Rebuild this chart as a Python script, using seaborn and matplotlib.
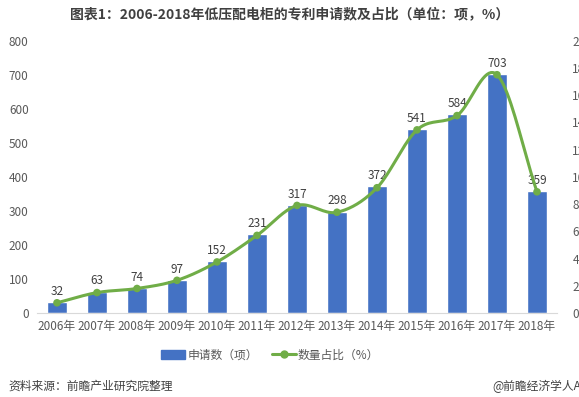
import numpy as np
import pandas as pd
import matplotlib
matplotlib.use('Agg')
import matplotlib.pyplot as plt
import seaborn as sns
from matplotlib.lines import Line2D
from matplotlib.patches import Patch

# 数据
years = ['2006年', '2007年', '2008年', '2009年', '2010年', '2011年', '2012年',
         '2013年', '2014年', '2015年', '2016年', '2017年', '2018年']
counts = [32, 63, 74, 97, 152, 231, 317, 298, 372, 541, 584, 703, 359]
shares = [0.75, 1.5, 1.8, 2.4, 3.75, 5.7, 7.9, 7.4, 9.2, 13.45, 14.5, 17.5, 8.9]

BAR_COLOR = '#4472C4'
LINE_COLOR = '#70AD47'
TEXT_COLOR = '#595959'

sns.set_style('white')
plt.rcParams['font.family'] = ['Noto Sans CJK SC', 'DejaVu Sans']


def smooth_curve(x, y, n=20):
    # Catmull-Rom 样条, 近似 Excel 平滑线
    x = np.asarray(x, float)
    y = np.asarray(y, float)
    px = np.concatenate([[2 * x[0] - x[1]], x, [2 * x[-1] - x[-2]]])
    py = np.concatenate([[2 * y[0] - y[1]], y, [2 * y[-1] - y[-2]]])
    xs, ys = [], []
    t = np.linspace(0, 1, n, endpoint=False)
    for i in range(1, len(px) - 2):
        for arr, out in ((px, xs), (py, ys)):
            p0, p1, p2, p3 = arr[i - 1], arr[i], arr[i + 1], arr[i + 2]
            out.extend(0.5 * ((2 * p1) + (-p0 + p2) * t
                              + (2 * p0 - 5 * p1 + 4 * p2 - p3) * t ** 2
                              + (-p0 + 3 * p1 - 3 * p2 + p3) * t ** 3))
    xs.append(x[-1])
    ys.append(y[-1])
    return np.array(xs), np.array(ys)


df = pd.DataFrame({'year': years, 'count': counts, 'share': shares})

fig = plt.figure(figsize=(5.79, 3.97), dpi=100)
ax = fig.add_axes([37 / 579, 1 - 313 / 397, 520 / 579, (313 - 40.7) / 397])

sns.barplot(data=df, x='year', y='count', color=BAR_COLOR, width=0.52,
            saturation=1, ax=ax)
ax.set_ylim(0, 800)
ax.set_xlim(-0.5, len(years) - 0.5)
ax.set_yticks(range(0, 801, 100))
ax.set_xlabel('')
ax.set_ylabel('')
ax.tick_params(axis='y', length=0, labelsize=8.5, labelcolor=TEXT_COLOR, pad=6)
ax.tick_params(axis='x', length=0, labelsize=8.5, labelcolor=TEXT_COLOR, pad=5)
for side in ['top', 'right', 'left']:
    ax.spines[side].set_visible(False)
ax.spines['bottom'].set_color('#D9D9D9')

for i, v in enumerate(counts):
    ax.text(i, v + 12, str(v), ha='center', va='bottom', fontsize=8.5,
            color='#404040')

ax2 = ax.twinx()
xs, ys = smooth_curve(np.arange(len(years)), shares)
ax2.plot(xs, ys, color=LINE_COLOR, lw=2.2, solid_capstyle='round')
sns.scatterplot(x=np.arange(len(years)), y=shares, color=LINE_COLOR, s=30,
                edgecolor='none', ax=ax2, zorder=3)
ax2.set_ylim(0, 20)
ax2.set_yticks(range(0, 21, 2))
# 右轴标签在原图中被画布右缘截断
ax2.tick_params(axis='y', length=0, labelsize=8.5, labelcolor=TEXT_COLOR, pad=11)
for side in ['top', 'right', 'left', 'bottom']:
    ax2.spines[side].set_visible(False)

fig.text(0.5, 1 - 14 / 397, '图表1：2006-2018年低压配电柜的专利申请数及占比（单位：项，%）',
         ha='center', va='center', fontsize=10, fontweight='bold',
         color='#404040')

handles = [Patch(color=BAR_COLOR),
           Line2D([0], [0], color=LINE_COLOR, lw=2.2, marker='o', markersize=5)]
fig.legend(handles, ['申请数（项）', '数量占比（%）'], loc='center',
           bbox_to_anchor=(0.467, 1 - 355 / 397), ncol=2, frameon=False,
           fontsize=8.5, handlelength=2.0, columnspacing=1.2,
           handletextpad=0.2, labelcolor=TEXT_COLOR)

fig.text(8 / 579, 1 - 386 / 397, '资料来源：前瞻产业研究院整理', ha='left',
         va='center', fontsize=8.5, color='#404040')
fig.text(1.0 + 2 / 579, 1 - 386 / 397, '@前瞻经济学人A', ha='right',
         va='center', fontsize=8.5, color='#404040')

fig.savefig('out.png', dpi=100)
